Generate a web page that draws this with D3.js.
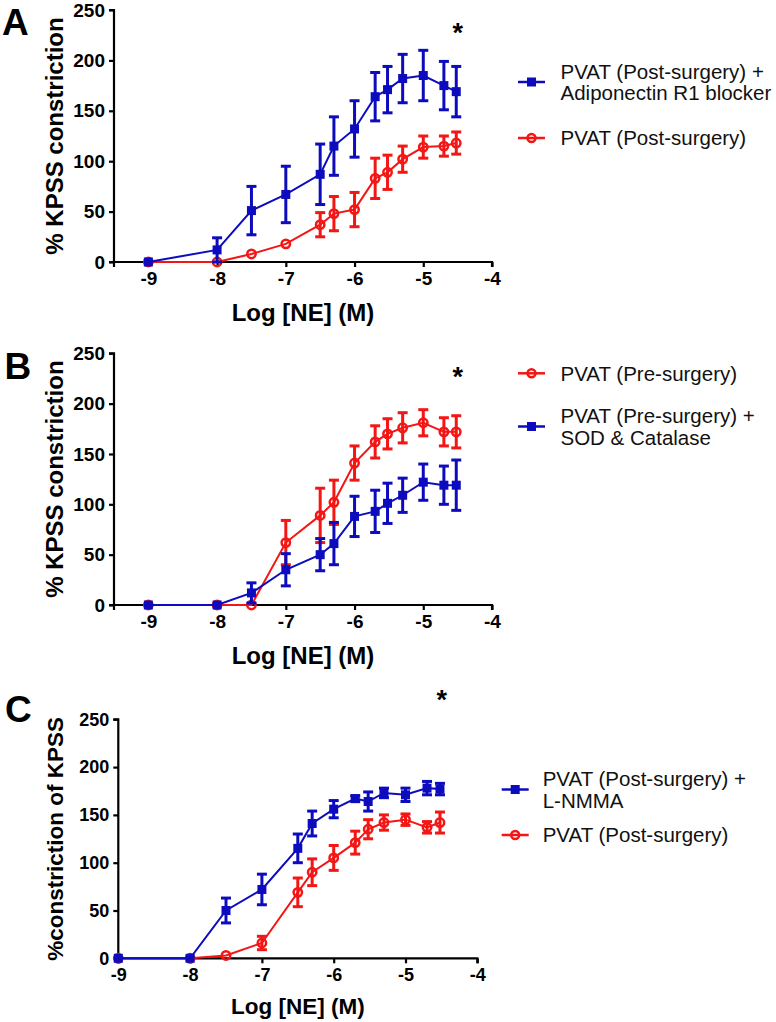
<!DOCTYPE html>
<html>
<head>
<meta charset="utf-8">
<script src="https://cdn.jsdelivr.net/npm/d3@7"></script>
<style>
  html, body { margin: 0; padding: 0; background: #fff; }
  svg { display: block; }
  text { font-family: "Liberation Sans", Arial, Helvetica, sans-serif; }
</style>
</head>
<body>
<svg id="chart" width="776" height="1022"></svg>
<script>
// ---- Data (log molar concentrations of NE) ----
const logNE = [-9, -8, -7.5, -7, -6.5, -6.3, -6, -5.7, -5.52, -5.3, -5, -4.7, -4.52];
const xTicks = [-9, -8, -7, -6, -5, -4];
const yTicks = [0, 50, 100, 150, 200, 250];

// Panel A
const aBlueName = ["PVAT (Post-surgery) +", "Adiponectin R1 blocker"];
const aBlueMean = [0, 12, 51, 67, 87, 115, 132, 164, 171, 182, 185, 175, 169];
const aBlueErr  = [0, 12, 24, 28, 30, 29, 28, 24, 23, 24, 25, 24, 25];
const aRedName  = ["PVAT (Post-surgery)"];
const aRedMean  = [0, 0, 8, 18, 37, 48, 52, 83, 89, 102, 114, 115, 118];
const aRedErr   = [0, 0, 0, 0, 12, 17, 17, 20, 17, 13, 11, 10, 11];

// Panel B
const bRedName  = ["PVAT (Pre-surgery)"];
const bRedMean  = [0, 0, 0, 62, 89, 102, 141, 162, 170, 176, 181, 172, 172];
const bRedErr   = [0, 0, 0, 22, 27, 22, 17, 16, 15, 15, 13, 14, 16];
const bBlueName = ["PVAT (Pre-surgery) +", "SOD & Catalase"];
const bBlueMean = [0, 0, 12, 35, 50, 61, 88, 93, 101, 109, 122, 119, 119];
const bBlueErr  = [0, 0, 10, 16, 16, 21, 20, 21, 20, 17, 18, 19, 25];

// Panel C
const cBlueName = ["PVAT (Post-surgery) +", "L-NMMA"];
const cBlueMean = [0, 0, 50, 72, 115, 141, 156, 167, 164, 173, 171, 178, 177];
const cBlueErr  = [0, 0, 13, 16, 15, 13, 9, 3, 10, 5, 7, 7, 6];
const cRedName  = ["PVAT (Post-surgery)"];
const cRedMean  = [0, 0, 3, 16, 69, 90, 105, 121, 135, 142, 145, 137, 142];
const cRedErr   = [0, 0, 0, 7, 15, 14, 13, 12, 10, 8, 6, 6, 11];

const BLUE = "#0c0cbe";
const RED = "#f41515";

const svg = d3.select("#chart");

function series(mean, err) {
  return logNE.map((x, i) => ({x: x, y: mean[i], e: err[i]}));
}

function drawPanel(p) {
  const g = svg.append("g");
  const x = d3.scaleLinear().domain(p.xDomain).range([p.left, p.right]);
  const y = d3.scaleLinear().domain([0, 250]).range([p.bottom, p.top]);

  // axes
  const xAxis = d3.axisBottom(x).tickValues(xTicks).tickSize(5).tickPadding(5)
    .tickFormat(d3.format("d"));
  const yAxis = d3.axisLeft(y).tickValues(yTicks).tickSize(5).tickPadding(4);
  const gx = g.append("g").attr("transform", `translate(0,${p.bottom})`).call(xAxis);
  const gy = g.append("g").attr("transform", `translate(${p.left},0)`).call(yAxis);
  [gx, gy].forEach(a => {
    a.select(".domain").attr("stroke", "#000").attr("stroke-width", 2.2);
    a.selectAll(".tick line").attr("stroke", "#000").attr("stroke-width", 2.2);
    a.selectAll(".tick text").attr("fill", "#000").attr("font-weight", "bold")
      .attr("font-size", p.tickFont).style("font-family", "'Liberation Sans', Arial, sans-serif");
  });
  gx.select(".domain").attr("d", `M${p.left},5V0H${p.right}V5`);
  gy.select(".domain").attr("d", `M-5,${p.top}H0V${p.bottom}H-5`);
  gx.selectAll(".tick text").text(d => d < 0 ? "-" + Math.abs(d) : d);

  // titles
  g.append("text").attr("x", (p.left + p.right) / 2).attr("y", p.xTitleY)
    .attr("text-anchor", "middle").attr("font-weight", "bold").attr("font-size", p.titleFont)
    .text("Log [NE] (M)");
  g.append("text").attr("transform", `translate(${p.yTitleX},${(p.top + p.bottom) / 2}) rotate(-90)`)
    .attr("text-anchor", "middle").attr("font-weight", "bold").attr("font-size", p.titleFont)
    .text(p.yTitle);
  g.append("text").attr("x", p.letterX).attr("y", p.letterY).attr("font-weight", "bold")
    .attr("font-size", 37).text(p.letter);
  g.append("text").attr("x", p.starX).attr("y", p.starY).attr("text-anchor", "middle")
    .attr("font-weight", "bold").attr("font-size", 27).text("*");

  // series
  p.series.forEach(s => {
    const data = series(s.mean, s.err);
    const sg = g.append("g");
    sg.append("path").datum(data)
      .attr("fill", "none").attr("stroke", s.color).attr("stroke-width", 2)
      .attr("d", d3.line().x(d => x(d.x)).y(d => y(d.y)));
    const eb = sg.selectAll(".eb").data(data.filter(d => d.e > 0)).enter().append("g");
    eb.append("line").attr("x1", d => x(d.x)).attr("x2", d => x(d.x))
      .attr("y1", d => y(d.y - d.e)).attr("y2", d => y(d.y + d.e))
      .attr("stroke", s.color).attr("stroke-width", 3);
    [1, -1].forEach(sign => {
      eb.append("line").attr("x1", d => x(d.x) - 5).attr("x2", d => x(d.x) + 5)
        .attr("y1", d => y(d.y + sign * d.e)).attr("y2", d => y(d.y + sign * d.e))
        .attr("stroke", s.color).attr("stroke-width", 3);
    });
    if (s.shape === "square") {
      sg.selectAll(".m").data(data).enter().append("rect")
        .attr("x", d => x(d.x) - 4.5).attr("y", d => y(d.y) - 4.5)
        .attr("width", 9).attr("height", 9).attr("fill", s.color);
    } else {
      sg.selectAll(".m").data(data).enter().append("circle")
        .attr("cx", d => x(d.x)).attr("cy", d => y(d.y)).attr("r", 4.2)
        .attr("fill", "none").attr("stroke", s.color).attr("stroke-width", 2.5);
    }
  });

  // legend
  p.legend.forEach(l => {
    const lg = g.append("g");
    lg.append("line").attr("x1", p.legX1).attr("x2", p.legX1 + 27)
      .attr("y1", l.y).attr("y2", l.y).attr("stroke", l.color).attr("stroke-width", 2.5);
    const cx = p.legX1 + 13.5;
    if (l.shape === "square") {
      lg.append("rect").attr("x", cx - 4.5).attr("y", l.y - 4.5).attr("width", 9).attr("height", 9)
        .attr("fill", l.color);
    } else {
      lg.append("circle").attr("cx", cx).attr("cy", l.y).attr("r", 4)
        .attr("fill", "none").attr("stroke", l.color).attr("stroke-width", 2.5);
    }
    const n = l.name.length;
    l.name.forEach((t, i) => {
      lg.append("text").attr("x", p.legTextX)
        .attr("y", l.y + (i - (n - 1) / 2) * 21.5 + 7.3)
        .attr("font-size", 20.5).attr("fill", "#111").text(t);
    });
  });
}

drawPanel({
  xDomain: [-9.5, -4], left: 114, right: 492, top: 10, bottom: 262,
  tickFont: 19, titleFont: 24, xTitleY: 321, yTitleX: 62.5, yTitle: "% KPSS constriction",
  letter: "A", letterX: 2, letterY: 35, starX: 457.7, starY: 42,
  series: [
    {mean: aRedMean, err: aRedErr, color: RED, shape: "circle"},
    {mean: aBlueMean, err: aBlueErr, color: BLUE, shape: "square"}
  ],
  legX1: 518, legTextX: 560.5,
  legend: [
    {name: aBlueName, y: 82, color: BLUE, shape: "square"},
    {name: aRedName, y: 138, color: RED, shape: "circle"}
  ]
});

drawPanel({
  xDomain: [-9.5, -4], left: 114, right: 492, top: 353.3, bottom: 605,
  tickFont: 19, titleFont: 24, xTitleY: 664, yTitleX: 62.5, yTitle: "% KPSS constriction",
  letter: "B", letterX: 4.5, letterY: 379, starX: 457.7, starY: 386,
  series: [
    {mean: bRedMean, err: bRedErr, color: RED, shape: "circle"},
    {mean: bBlueMean, err: bBlueErr, color: BLUE, shape: "square"}
  ],
  legX1: 518, legTextX: 560.5,
  legend: [
    {name: bRedName, y: 373.3, color: RED, shape: "circle"},
    {name: bBlueName, y: 426.5, color: BLUE, shape: "square"}
  ]
});

drawPanel({
  xDomain: [-9, -4], left: 118.3, right: 477.3, top: 719.3, bottom: 958.3,
  tickFont: 18, titleFont: 22.5, xTitleY: 1014, yTitleX: 63, yTitle: "%constriction of KPSS",
  letter: "C", letterX: 5, letterY: 722, starX: 441.7, starY: 709,
  series: [
    {mean: cRedMean, err: cRedErr, color: RED, shape: "circle"},
    {mean: cBlueMean, err: cBlueErr, color: BLUE, shape: "square"}
  ],
  legX1: 501.7, legTextX: 542.7,
  legend: [
    {name: cBlueName, y: 789.5, color: BLUE, shape: "square"},
    {name: cRedName, y: 835, color: RED, shape: "circle"}
  ]
});
</script>
</body>
</html>
